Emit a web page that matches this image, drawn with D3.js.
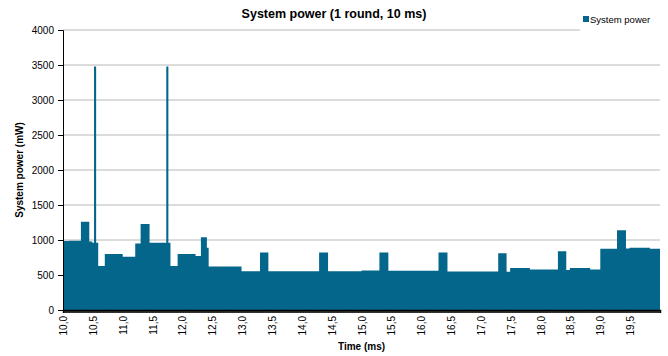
<!DOCTYPE html>
<html>
<head>
<meta charset="utf-8">
<script src="https://cdn.jsdelivr.net/npm/d3@7"></script>
<style>
  body { margin: 0; background: #fff; }
  svg { font-family: "Liberation Sans", Arial, sans-serif; }
</style>
</head>
<body>
<div id="chart"></div>
<script>
// segment start times (ms) and system power (mW) held from that time on
const times = [10.00, 10.10, 10.30, 10.44, 10.49, 10.52, 10.555, 10.59, 10.70, 11.00,
  11.21, 11.30, 11.45, 11.73, 11.765, 11.80, 11.92, 12.22, 12.31, 12.41,
  12.44, 12.99, 13.30, 13.44, 14.29, 14.44, 15.00, 15.30, 15.45, 16.29,
  16.44, 17.29, 17.43, 17.49, 17.82, 18.29, 18.43, 18.49, 18.83, 19.00,
  19.28, 19.43, 19.49, 19.83, 20.00];
const powers = [985, 990, 1260, 980, 960, 3480, 960, 630, 800, 760,
  950, 1230, 960, 3480, 960, 630, 800, 770, 1040, 890,
  620, 555, 820, 555, 820, 555, 565, 820, 560, 820,
  550, 810, 545, 600, 580, 840, 570, 600, 580, 875,
  1140, 880, 890, 875, 875];
const xTicks = [10.0, 10.5, 11.0, 11.5, 12.0, 12.5, 13.0, 13.5, 14.0, 14.5,
  15.0, 15.5, 16.0, 16.5, 17.0, 17.5, 18.0, 18.5, 19.0, 19.5];
const yTicks = [0, 500, 1000, 1500, 2000, 2500, 3000, 3500, 4000];
const seriesName = "System power";
const color = "#03668a";

const width = 668, height = 356;
const margin = { top: 30, right: 8, bottom: 46, left: 63 };
const innerW = width - margin.left - margin.right;
const innerH = height - margin.top - margin.bottom;

const svg = d3.select("#chart").append("svg")
  .attr("width", width).attr("height", height);

const g = svg.append("g").attr("transform", `translate(${margin.left},${margin.top})`);

const x = d3.scaleLinear().domain([10, 20]).range([0, innerW]);
const y = d3.scaleLinear().domain([0, 4000]).range([innerH, 0]);

// grid
g.append("g")
  .selectAll("line")
  .data(yTicks.filter(d => d > 0))
  .enter().append("line")
  .attr("x1", 0).attr("x2", innerW)
  .attr("y1", d => y(d)).attr("y2", d => y(d))
  .attr("stroke", "#b8b8b8").attr("stroke-width", 1);

// area
const data = times.map((t, i) => ({ t: t, v: powers[i] }));
g.append("path")
  .datum(data)
  .attr("fill", color)
  .attr("d", d3.area()
    .curve(d3.curveStepAfter)
    .x(d => x(d.t))
    .y0(y(0))
    .y1(d => y(d.v)));

// y axis
const yAxis = g.append("g")
  .call(d3.axisLeft(y).tickValues(yTicks).tickSize(5).tickPadding(4).tickFormat(d3.format("d")));
yAxis.select(".domain").attr("stroke", "#000");
yAxis.selectAll("text").style("font-size", "10px").attr("fill", "#000");

// x axis: dense category ticks form the black band
const minor = d3.range(1000).map(i => 10 + i * 0.01);
const xMinor = g.append("g")
  .attr("transform", `translate(0,${innerH})`)
  .call(d3.axisBottom(x).tickValues(minor).tickSize(3).tickFormat(""));
xMinor.selectAll("line").attr("stroke", "#000").attr("stroke-width", 0.7);
xMinor.select(".domain").attr("stroke", "#000").attr("stroke-width", 1.5);

const xAxis = g.append("g")
  .attr("transform", `translate(0,${innerH})`)
  .call(d3.axisBottom(x).tickValues(xTicks).tickSize(0)
    .tickFormat(d => d.toFixed(1).replace(".", ",")));
xAxis.select(".domain").remove();
xAxis.selectAll("text")
  .attr("transform", "rotate(-90)")
  .attr("x", -6).attr("y", 0).attr("dy", "0.35em")
  .style("text-anchor", "end")
  .style("font-size", "10px")
  .attr("fill", "#000");

// title
svg.append("text")
  .attr("x", 334).attr("y", 18)
  .attr("text-anchor", "middle")
  .style("font-size", "12.5px").style("font-weight", "bold")
  .text("System power (1 round, 10 ms)");

// axis titles
svg.append("text")
  .attr("transform", `translate(23,${margin.top + innerH / 2}) rotate(-90)`)
  .attr("text-anchor", "middle")
  .style("font-size", "10px").style("font-weight", "bold")
  .text("System power (mW)");

svg.append("text")
  .attr("x", margin.left + innerW / 2).attr("y", 350)
  .attr("text-anchor", "middle")
  .style("font-size", "10px").style("font-weight", "bold")
  .text("Time (ms)");

// legend
const leg = svg.append("g").attr("transform", "translate(580,10)");
leg.append("rect").attr("width", 88).attr("height", 24).attr("fill", "#fff");
leg.append("rect").attr("x", 3).attr("y", 6).attr("width", 6).attr("height", 6).attr("fill", color);
leg.append("text").attr("x", 10).attr("y", 12.5)
  .style("font-size", "9.5px").text(seriesName);
</script>
</body>
</html>
